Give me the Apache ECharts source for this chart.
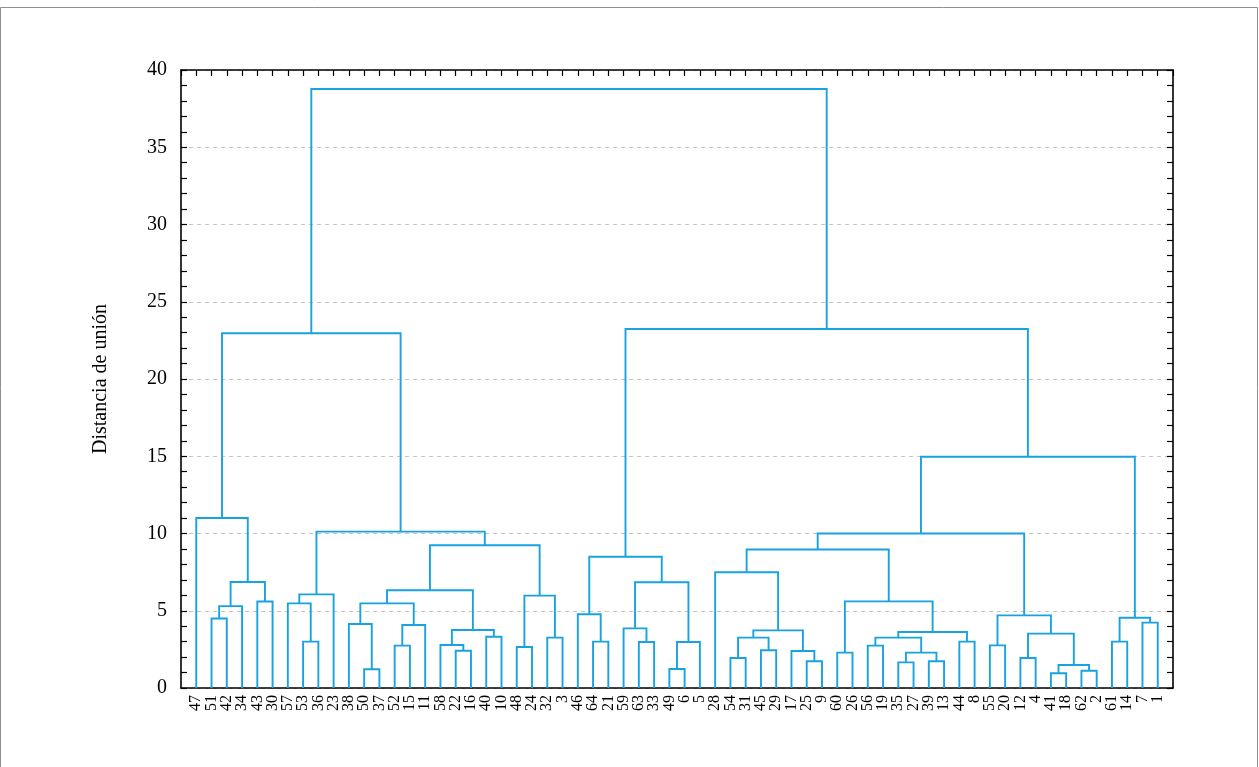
<!DOCTYPE html>
<html><head><meta charset="utf-8">
<script src="https://cdn.jsdelivr.net/npm/echarts@6/dist/echarts.min.js"></script>
<style>html,body{margin:0;padding:0;background:#fff;}#c{width:1259px;height:767px;}#err{position:absolute;left:300px;top:200px;font:12px monospace;color:red;white-space:pre;}</style>
</head><body><div id="c"></div><div id="err"></div>
<script>
// Leaf order along the x axis
const leafLabels = ['47','51','42','34','43','30','57','53','36','23','38','50','37','52','15','11','58','22','16','40','10','48','24','32','3','46','64','21','59','63','33','49','6','5','28','54','31','45','29','17','25','9','60','26','56','19','35','27','39','13','44','8','55','20','12','4','41','18','62','2','61','14','7','1'];
// Linkage: ids < 64 are leaves (by position), id 64+k is merge k
const mergeLeft  = [1,64,4,65,0, 7,6,70, 11,10,13,74,73, 17,16,19,78,76, 21,23,82, 81,71,68, 26,25,29,28,31,92,91,89, 35,37,96,40,39,98,34, 42,44,46,48,105,104,50,108,103,102, 52,54,56,58,115,114,113,112, 60,62,121,120,95,87];
const mergeRight = [2,3,5,66,67, 8,69,9, 12,72,14,15,75, 18,77,20,79,80, 22,24,83, 84,85,86, 27,88,30,90,32,33,93,94, 36,38,97,41,99,100,101, 43,45,47,49,106,107,51,109,110,111, 53,55,57,59,116,117,118,119, 61,63,122,123,124,125];
const mergeHeight = [4.5,5.3,5.6,6.86,11.0, 3.0,5.48,6.06, 1.21,4.14,2.74,4.08,5.48, 2.41,2.78,3.32,3.75,6.33, 2.65,3.26,5.98, 9.24,10.12,22.96, 3.0,4.77,2.98,3.86,1.23,2.98,6.84,8.5, 1.94,2.44,3.26,1.73,2.39,3.73,7.49, 2.29,2.74,1.66,1.73,2.29,3.26,3.0,3.62,5.61,8.96, 2.76,1.94,0.95,1.12,1.49,3.52,4.7,10.0, 3.0,4.23,4.55,14.97,23.24,38.77];
const yAxisName = 'Distancia de unión';

const n = leafLabels.length;
const pos = [], hgt = [];
for (let i = 0; i < n; i++) { pos[i] = i; hgt[i] = 0; }
const links = []; // [xLeft, hLeft, h, xRight, hRight]
for (let k = 0; k < mergeHeight.length; k++) {
  const a = mergeLeft[k], b = mergeRight[k], h = mergeHeight[k];
  links.push([pos[a], hgt[a], h, pos[b], hgt[b]]);
  pos[n + k] = (pos[a] + pos[b]) / 2; hgt[n + k] = h;
}

const FONT = 'Liberation Serif';
const LINE = '#19a2e0';
const black = {color: '#000', width: 1.6};
const tickStyle = {color: '#000', width: 1.2};
const leafName = v => (Number.isInteger(v) && v >= 0 && v < n) ? leafLabels[v] : '';
try {
const chart = echarts.init(document.getElementById('c'), null, {renderer: 'canvas'});
chart.setOption({
  animation: false,
  backgroundColor: '#fff',
  graphic: [{type: 'rect', shape: {x: 0.5, y: 7.5, width: 1257, height: 800}, style: {fill: 'none', stroke: '#8f8f8f', lineWidth: 1}, silent: true}],
  grid: {left: 181, right: 86, top: 70, bottom: 79},
  xAxis: [
    {type: 'value', min: -1, max: n, interval: 1, position: 'bottom',
      axisLine: {onZero: false, lineStyle: black}, axisTick: {show: false}, splitLine: {show: false},
      axisLabel: {rotate: 90, fontFamily: FONT, fontSize: 16, color: '#000', margin: 7, formatter: leafName, showMinLabel: true, showMaxLabel: true}},
    {type: 'value', min: -1, max: n, interval: 1, position: 'top',
      axisLine: {onZero: false, lineStyle: black}, splitLine: {show: false}, axisLabel: {show: false},
      axisTick: {show: true, inside: true, length: 6, lineStyle: tickStyle}}
  ],
  yAxis: [
    {type: 'value', min: 0, max: 40, interval: 5, position: 'left',
      axisLine: {show: true, onZero: false, lineStyle: black},
      axisTick: {show: true, inside: true, length: 6, lineStyle: tickStyle},
      minorTick: {show: true, splitNumber: 5, length: 6, lineStyle: tickStyle},
      axisLabel: {fontFamily: FONT, fontSize: 20, color: '#000', margin: 14},
      splitLine: {show: true, lineStyle: {color: '#c4c4c4', type: [4, 4], width: 1}},
      name: yAxisName, nameLocation: 'middle', nameGap: 70, nameTextStyle: {fontFamily: FONT, fontSize: 20, color: '#000'}},
    {type: 'value', min: 0, max: 40, interval: 5, position: 'right',
      axisLine: {show: true, onZero: false, lineStyle: black},
      axisTick: {show: true, inside: true, length: 6, lineStyle: tickStyle},
      minorTick: {show: true, splitNumber: 5, length: 6, lineStyle: tickStyle},
      axisLabel: {show: false}, splitLine: {show: false}}
  ],
  series: [{
    type: 'custom', xAxisIndex: 0, yAxisIndex: 0, silent: true,
    data: links,
    encode: {x: [0, 3], y: [1, 2, 4]},
    renderItem: function (params, api) {
      const p1 = api.coord([api.value(0), api.value(1)]);
      const p2 = api.coord([api.value(0), api.value(2)]);
      const p3 = api.coord([api.value(3), api.value(2)]);
      const p4 = api.coord([api.value(3), api.value(4)]);
      return {type: 'polyline', shape: {points: [p1, p2, p3, p4]},
        style: {stroke: LINE, lineWidth: 1.9, fill: null}};
    }
  }]
});
} catch (e) { document.getElementById('err').textContent = String(e && e.stack || e).slice(0, 1500); }
</script>
</body></html>
